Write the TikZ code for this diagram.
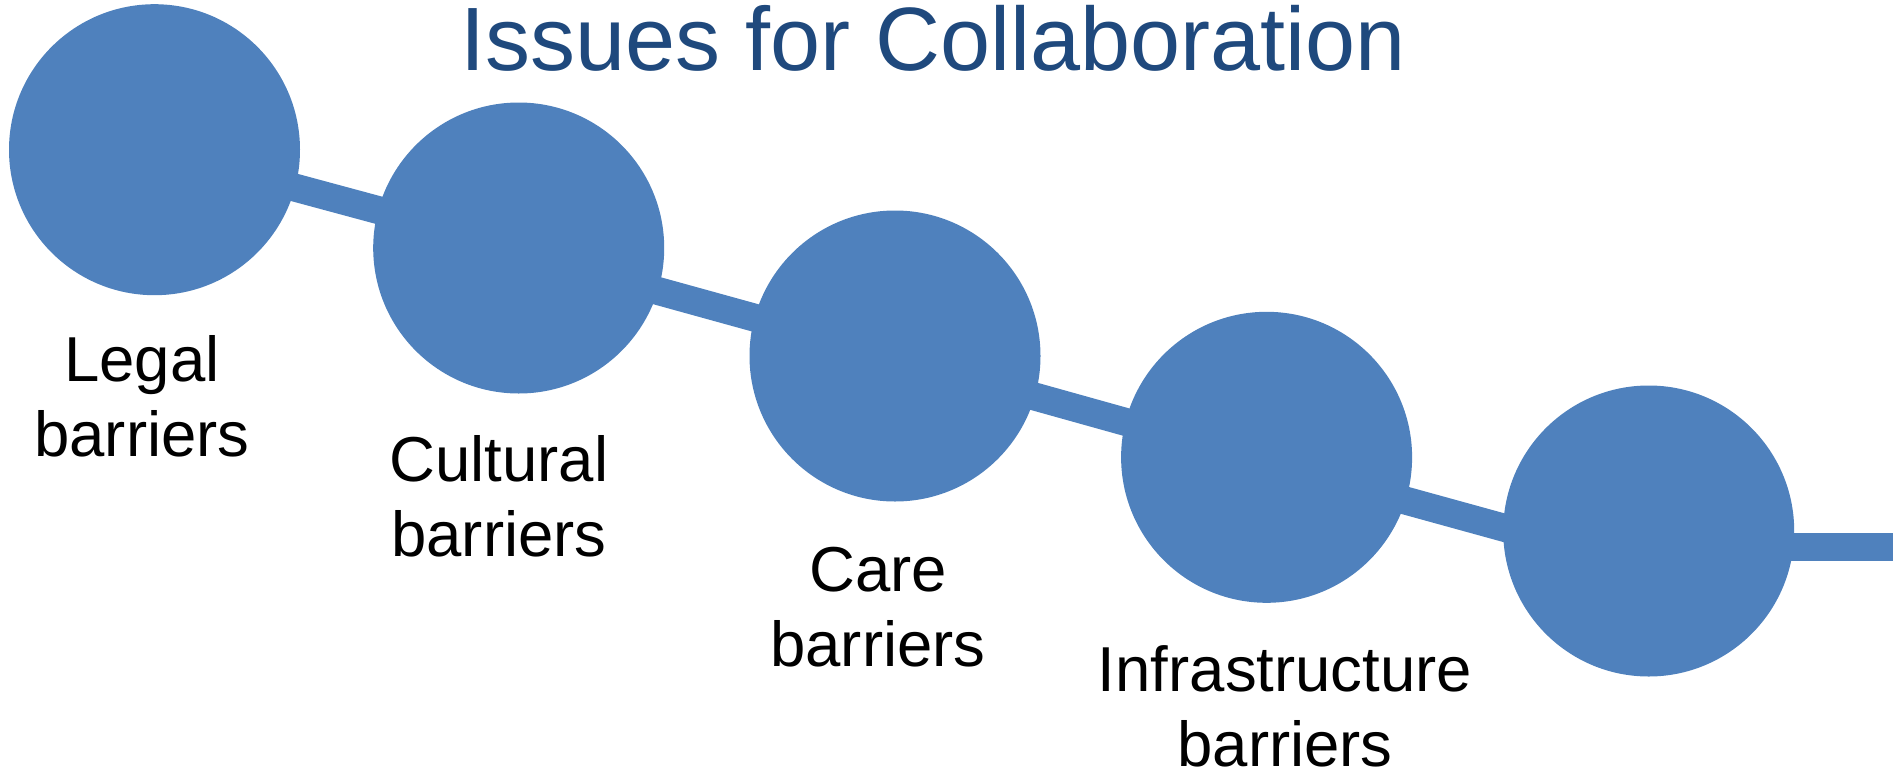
\documentclass[tikz,border=0pt]{standalone}
\usepackage{fontspec}
\setmainfont{Liberation Sans}
\usetikzlibrary{backgrounds}
\definecolor{dotblue}{RGB}{79,129,189}
\definecolor{titleblue}{RGB}{31,73,125}
\begin{document}
\begin{tikzpicture}[x=1pt,y=-1pt,
  dot/.style={circle,fill=dotblue,draw=none,inner sep=0pt,minimum size=291pt},
  link/.style={draw=dotblue,line width=28pt},
  label/.style={align=center,anchor=base,inner sep=0pt,font=\fontsize{63.5}{75}\selectfont},
  title/.style={anchor=base,inner sep=0pt,text=titleblue,font=\fontsize{90}{108}\selectfont}]
\useasboundingbox (0,0) rectangle (1893,774);
\node[title] (t) at (933,70.7) {Issues for Collaboration};
\node[dot] (c1) at (154.5,149.7) {};
\node[dot] (c2) at (518.7,248) {};
\node[dot] (c3) at (895,356) {};
\node[dot] (c4) at (1266.6,457.3) {};
\node[dot] (c5) at (1648.7,531) {};
\coordinate (tail) at (1893,546.7);
\begin{scope}[on background layer]
\draw[link] (c1.center) -- (c2.center);
\draw[link] ([yshift=-4.5pt]c2.center) -- ([yshift=-0.5pt]c3.center);
\draw[link] ([yshift=-1.5pt]c3.center) -- ([yshift=-4pt]c4.center);
\draw[link] ([yshift=-5pt]c4.center) -- ([yshift=-36.6pt]c5.center);
\draw[link] ([yshift=-15.7pt]c5.center) -- (tail);
\end{scope}
\node[label] (l1) at (142,456.5) {Legal\\barriers};
\node[label] (l2) at (499,556.7) {Cultural\\barriers};
\node[label] (l3) at (878,666.7) {Care\\barriers};
\node[label] (l4) at (1285,766.7) {Infrastructure\\barriers};
\end{tikzpicture}
\end{document}
